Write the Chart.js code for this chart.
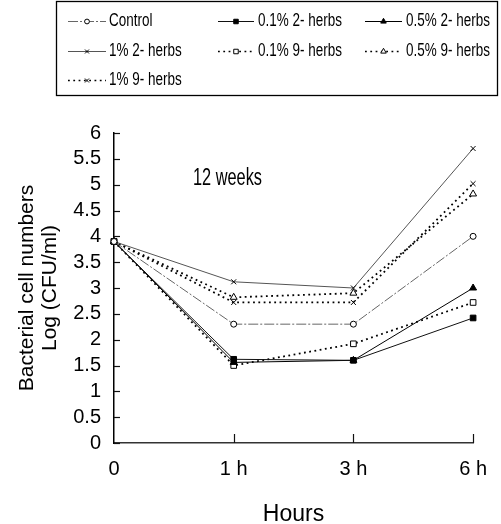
<!DOCTYPE html>
<html><head><meta charset="utf-8">
<script src="https://cdn.jsdelivr.net/npm/chart.js@4"></script>
<style>html,body{margin:0;padding:0;background:#fff}#wrap{width:501px;height:524px}</style>
</head><body><div id="wrap"><canvas id="c" width="501" height="524"></canvas></div>
<script>
const hours = ['0', '1 h', '3 h', '6 h'];
const seriesNames = ['Control', '0.1% 2- herbs', '0.5% 2- herbs', '1% 2- herbs', '0.1% 9- herbs', '0.5% 9- herbs', '1% 9- herbs'];
const control   = [3.9, 2.3, 2.3, 4.0];
const herbs2_01 = [3.9, 1.62, 1.6, 2.42];
const herbs2_05 = [3.9, 1.56, 1.6, 3.0];
const herbs2_1  = [3.9, 3.12, 3.0, 5.7];
const herbs9_01 = [3.9, 1.5, 1.92, 2.72];
const herbs9_05 = [3.9, 2.82, 2.9, 4.82];
const herbs9_1  = [3.9, 2.72, 2.72, 5.02];
const yMin = 0, yMax = 6, yStep = 0.5;
const panelLabel = '12 weeks';
const yTitle = ['Bacterial cell numbers', 'Log (CFU/ml)'];
const xTitle = 'Hours';

const FONT = "'Liberation Sans', Arial, sans-serif";

function ds(label, data, o) {
  return Object.assign({label, data, borderColor:'#222', borderWidth:1, pointRadius:3.2,
    pointBorderWidth:1, pointBorderColor:'#000', pointBackgroundColor:'#000', tension:0, fill:false}, o);
}
const datasets = [
  ds(seriesNames[0], control,   {borderColor:'#666', borderDash:[10,2,2,2], pointStyle:'circle', pointBackgroundColor:'#fff', pointRadius:3}),
  ds(seriesNames[1], herbs2_01, {borderColor:'#111', pointStyle:'rect', pointRadius:4}),
  ds(seriesNames[2], herbs2_05, {borderColor:'#000', pointStyle:'triangle', pointRadius:4}),
  ds(seriesNames[3], herbs2_1,  {borderColor:'#555', pointStyle:'crossRot', pointRadius:3.5}),
  ds(seriesNames[4], herbs9_01, {borderColor:'#000', borderWidth:1.8, borderDash:[1.8,3.5], pointStyle:'rect', pointBackgroundColor:'#fff', pointRadius:4}),
  ds(seriesNames[5], herbs9_05, {borderColor:'#000', borderWidth:1.8, borderDash:[1.8,3.5], pointStyle:'triangle', pointBackgroundColor:'#fff', pointRadius:4}),
  ds(seriesNames[6], herbs9_1,  {borderColor:'#000', borderWidth:1.8, borderDash:[1.8,3.5], pointStyle:'crossRot', pointRadius:3.5})
];

function condensedText(ctx, text, x, y, size, squeeze) {
  ctx.save();
  ctx.font = size + 'px ' + FONT;
  ctx.translate(x, y);
  ctx.scale(squeeze, 1);
  ctx.fillText(text, 0, 0);
  ctx.restore();
}

const decor = {
  id: 'decor',
  afterDraw(chart) {
    const ctx = chart.ctx, ca = chart.chartArea;
    const xs = chart.scales.x, ys = chart.scales.y;
    ctx.save();
    // inward ticks
    ctx.strokeStyle = '#111'; ctx.lineWidth = 1.2; ctx.setLineDash([]);
    ys.ticks.forEach(t => {
      const y = Math.round(ys.getPixelForValue(t.value)) + 0.5;
      ctx.beginPath(); ctx.moveTo(ca.left, y); ctx.lineTo(ca.left + 6, y); ctx.stroke();
    });
    xs.ticks.forEach((t, i) => {
      if (i === 0) return;
      const x = Math.round(xs.getPixelForValue(i)) + 0.5;
      ctx.beginPath(); ctx.moveTo(x, ca.bottom); ctx.lineTo(x, ca.bottom - 9); ctx.stroke();
    });
    // panel label
    ctx.fillStyle = '#000';
    ctx.textBaseline = 'middle'; ctx.textAlign = 'left';
    condensedText(ctx, panelLabel, 193, 179, 23, 0.71);
    // legend box
    ctx.strokeStyle = '#000'; ctx.lineWidth = 1.3;
    ctx.strokeRect(56.5, 1.5, 441, 94);
    const cols = [[68, 106, 109], [218, 254, 258], [365, 402, 406]];
    const rows = [21, 51, 80];
    chart.data.datasets.forEach((d, i) => {
      const c = cols[i % 3], y = rows[Math.floor(i / 3)];
      ctx.strokeStyle = d.borderColor; ctx.lineWidth = Math.min(d.borderWidth, 1.4);
      ctx.setLineDash(d.borderDash || []);
      ctx.beginPath(); ctx.moveTo(c[0], y + 0.5); ctx.lineTo(c[1], y + 0.5); ctx.stroke();
      ctx.setLineDash([]);
      ctx.strokeStyle = d.pointBorderColor; ctx.fillStyle = d.pointBackgroundColor; ctx.lineWidth = 1;
      Chart.helpers.drawPoint(ctx, {pointStyle: d.pointStyle, radius: d.pointRadius * 0.8, rotation: 0, borderWidth: 1}, (c[0] + c[1]) / 2, y + 0.5);
      ctx.fillStyle = '#000';
      condensedText(ctx, d.label, c[2], y, 17.5, 0.77);
    });
    ctx.restore();
  }
};

new Chart(document.getElementById('c'), {
  type: 'line',
  data: {labels: hours, datasets},
  plugins: [decor],
  options: {
    responsive: false, animation: false, devicePixelRatio: 1,
    layout: {padding: {top: 133, right: 22, left: 0, bottom: 0}},
    plugins: {legend: {display: false}, tooltip: {enabled: false}},
    scales: {
      x: {
        type: 'category', offset: false,
        grid: {display: true, drawOnChartArea: false, drawTicks: false},
        border: {display: true, color: '#333', width: 1.5},
        ticks: {color: '#000', font: {family: FONT, size: 20}, padding: 14, maxRotation: 0, autoSkip: false},
        title: {display: true, text: xTitle, color: '#000', font: {family: FONT, size: 23, lineHeight: 0.6}, padding: {top: 0, bottom: 2}},
        afterFit: s => { s.height = 81; }
      },
      y: {
        min: yMin, max: yMax,
        grid: {display: true, drawOnChartArea: false, drawTicks: false},
        border: {display: true, color: '#000', width: 1.5},
        ticks: {stepSize: yStep, autoSkip: false, color: '#000', font: {family: FONT, size: 20}, padding: 13,
                callback: v => String(v)},
        title: {display: true, text: yTitle, color: '#000', font: {family: FONT, size: 21, lineHeight: 1.1}, padding: {top: 15.5, bottom: 0}},
        afterFit: s => { s.width = 114; }
      }
    }
  }
});
</script></body></html>
